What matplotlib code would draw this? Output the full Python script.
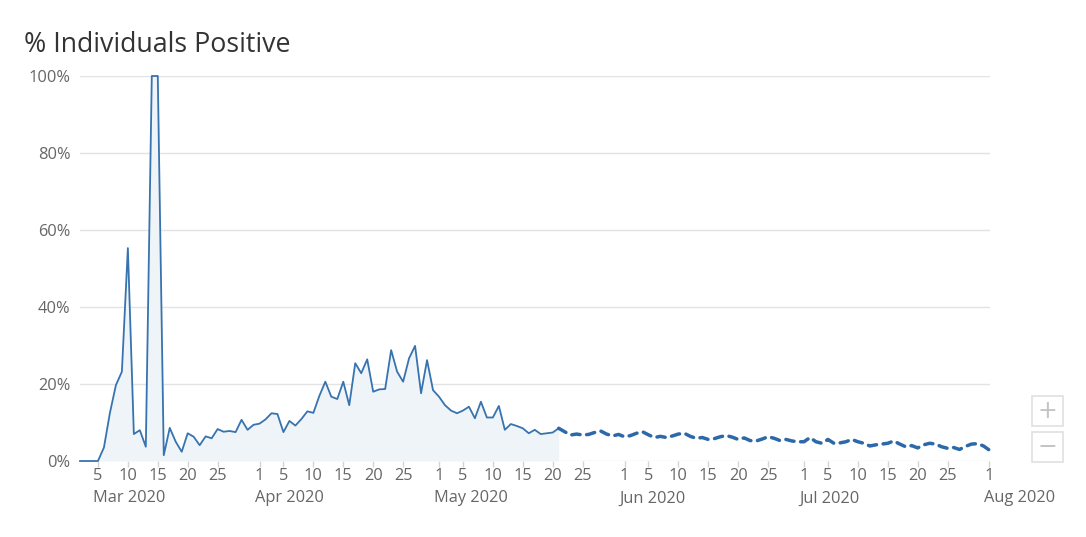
import matplotlib
matplotlib.use('Agg')
import matplotlib.pyplot as plt
import pandas as pd
from matplotlib.patches import Rectangle

plt.rcParams['font.family'] = ['Open Sans', 'DejaVu Sans']

# ---------------- data ----------------
title = "% Individuals Positive"

solid_start, solid_end = "2020-03-02", "2020-05-21"
solid_values = [
    # Mar 2 - Mar 31
    0, 0, 0, 0, 3.5, 12.5, 19.7, 23.2, 55.3, 7.0, 8.0, 3.7, 100, 100, 1.5,
    8.6, 5.0, 2.4, 7.2, 6.3, 4.1, 6.4, 5.9, 8.3, 7.6, 7.8, 7.5, 10.7, 8.1, 9.4,
    # Apr 1 - Apr 30
    9.7, 10.8, 12.4, 12.2, 7.5, 10.4, 9.2, 10.9, 12.9, 12.5, 16.9, 20.6, 16.7,
    16.1, 20.6, 14.5, 25.4, 22.8, 26.4, 18.0, 18.6, 18.7, 28.8, 23.2, 20.6,
    26.7, 29.9, 17.6, 26.2, 18.4,
    # May 1 - May 21
    16.7, 14.5, 13.1, 12.4, 13.1, 14.1, 11.1, 15.4, 11.3, 11.3, 14.3, 8.1, 9.6,
    9.1, 8.5, 7.2, 8.1, 7.0, 7.2, 7.4, 8.5,
]

dashed_start, dashed_end = "2020-05-21", "2020-08-01"
dashed_values = [
    # May 21 - Jun 26
    8.5, 7.6, 6.75, 7.0, 6.75, 6.9, 7.4, 7.8, 7.0, 6.5, 6.9, 6.3, 6.6, 7.2, 7.6,
    6.8, 6.1, 6.4, 6.1, 6.5, 7.0, 7.2, 6.4, 5.9, 6.1, 5.6, 5.8, 6.3, 6.6, 6.2,
    5.6, 6.0, 5.3, 5.2, 5.7, 6.3, 5.9,
    # Jun 27 - Aug 1
    5.3, 5.6, 5.2, 5.0, 5.0, 6.1, 5.0, 4.6, 5.6, 4.6, 4.7, 5.0, 5.6, 5.0, 4.6,
    3.9, 4.2, 4.4, 4.6, 5.2, 4.4, 3.7, 4.0, 3.4, 4.2, 4.6, 4.4, 3.7, 3.3, 3.5,
    3.0, 3.8, 4.4, 4.5, 3.9, 2.8,
]

y_ticks = [0, 20, 40, 60, 80, 100]
y_tick_labels = ["0%", "20%", "40%", "60%", "80%", "100%"]
tick_days = [1, 5, 10, 15, 20, 25]
month_labels = ["Mar 2020", "Apr 2020", "May 2020", "Jun 2020", "Jul 2020", "Aug 2020"]
month_anchor_dates = ["2020-03-05", "2020-04-01", "2020-05-01", "2020-06-01",
                      "2020-07-01", "2020-08-01"]

solid_dates = pd.date_range(solid_start, solid_end, freq="D")
dashed_dates = pd.date_range(dashed_start, dashed_end, freq="D")

# ---------------- figure ----------------
W, H = 1086, 537
fig = plt.figure(figsize=(W / 100, H / 100), dpi=100)
L, R, T, B = 80, 989.5, 76, 461
ax = fig.add_axes([L / W, 1 - B / H, (R - L) / W, (B - T) / H])

line_col = "#3773af"
dash_col = "#2d69a8"
fill_col = "#eff4f9"
grid_col = "#e3e3e3"
text_col = "#666666"
lab_size = 11.8

ax.fill_between(solid_dates, solid_values, 0, color=fill_col, lw=0, zorder=1)
ax.plot(solid_dates, solid_values, color=line_col, lw=1.3, zorder=3,
        clip_on=False, solid_joinstyle="round")
ax.plot(dashed_dates, dashed_values, color=dash_col, lw=2.5, zorder=3,
        clip_on=False, dashes=(2.4, 1.9), dash_capstyle="round")

ax.set_xlim(pd.Timestamp("2020-03-02"), pd.Timestamp("2020-08-01"))
ax.set_ylim(0, 100)

for s in ax.spines.values():
    s.set_visible(False)

ax.set_yticks(y_ticks)
ax.set_yticklabels(y_tick_labels)
ax.yaxis.grid(True, color=grid_col, lw=1.0)
ax.set_axisbelow(True)
ax.tick_params(axis="y", length=0, pad=7, labelsize=lab_size, labelcolor=text_col)

tick_dates = []
tick_labels = []
for m in range(3, 9):
    for d in tick_days:
        t = pd.Timestamp(2020, m, d)
        if pd.Timestamp("2020-03-02") <= t <= pd.Timestamp("2020-08-01"):
            tick_dates.append(t)
            tick_labels.append(str(d))
ax.set_xticks(tick_dates)
ax.set_xticklabels(tick_labels)
ax.tick_params(axis="x", length=4.3, width=1, color="#d4d4d4", pad=1,
               labelsize=lab_size, labelcolor=text_col)

for lab, dt in zip(month_labels, month_anchor_dates):
    ax.annotate(lab, xy=(pd.Timestamp(dt), 0), xycoords=("data", "axes fraction"),
                xytext=(-5, -37.5), textcoords="offset pixels",
                ha="left", va="center", fontsize=lab_size, color=text_col,
                annotation_clip=False)

fig.text(24 / W, 1 - 52 / H, title, fontsize=19.3, color="#333333",
         ha="left", va="baseline")

# zoom buttons
for (y0, sym) in [(396, "+"), (432, "\u2212")]:
    fig.patches.append(Rectangle((1032 / W, 1 - (y0 + 30) / H), 31 / W, 30 / H,
                                 transform=fig.transFigure, facecolor="white",
                                 edgecolor="#e0e0e0", lw=1.2))
    fig.text(1047.5 / W, 1 - (y0 + 15) / H, sym, fontsize=17, color="#c4c4c4",
             ha="center", va="center", family=["DejaVu Sans"])

fig.savefig("out.png", dpi=100)
